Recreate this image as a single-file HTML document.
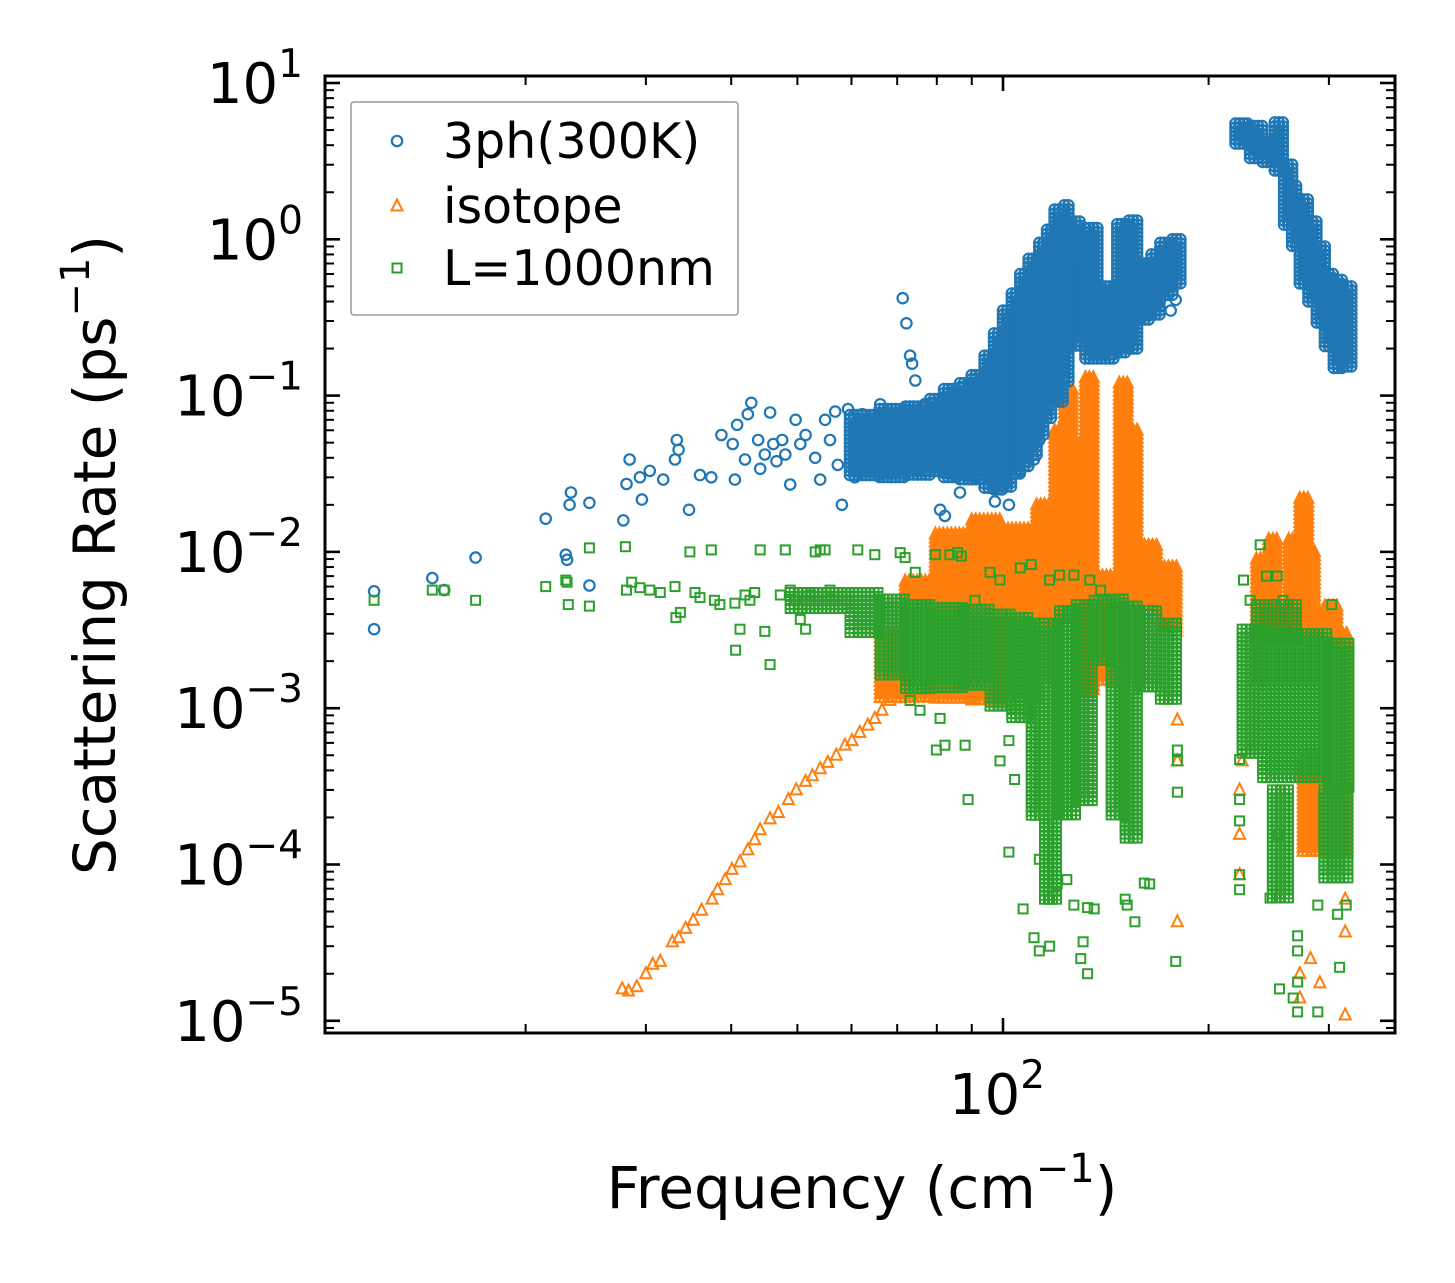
<!DOCTYPE html>
<html><head><meta charset="utf-8"><style>
html,body{margin:0;padding:0;background:#fff;}
svg{display:block;font-family:"DejaVu Sans","Liberation Sans",sans-serif;}
</style></head><body>
<svg id="chart" width="1455" height="1283" viewBox="0 0 1455 1283" xmlns="http://www.w3.org/2000/svg">
<rect x="0" y="0" width="1455" height="1283" fill="#fff"/>
<g id="marks"></g>
<g id="axes"></g>
<g id="legend"></g>
</svg>
<script>
// ---- data ----
const xTickMajor = [100];
const xTickMinor = [20,30,40,50,60,70,80,90,200,300];
const yDecades = [1,0,-1,-2,-3,-4,-5];
const seriesNames = ["3ph(300K)","isotope","L=1000nm"];

// 3ph scattered points [freq, rate]
const blueFreq = [12.0,12.0,14.6,15.2,16.9,21.4,22.9,23.0,23.2,23.3,24.8,24.8,27.8,28.1,28.4,29.6,29.4,30.4,31.8,33.1,33.3,33.5,34.7,36.0,37.4,38.7,40.2,40.5,40.8,41.9,42.3,42.8,43.8,44.1,44.8,45.6,46.1,46.6,47.5,48.0,48.8,49.7,50.5,51.4,53.1,54.0,54.9,55.8,56.8,57.3,58.1,59.3,60.7,62.2,63.9,64.9,66.1,68.3,71.3,72.2,73.1,73.6,74.4,76.8,80.9,82.2,86.5,91,97.3,100.7,102,106,111,113,136,139,141,170,179,176];
const blueRate = [5.6e-3,3.2e-3,6.8e-3,5.7e-3,9.2e-3,0.0163,9.6e-3,8.9e-3,0.020,0.024,6.1e-3,0.0206,0.0159,0.0272,0.039,0.0216,0.030,0.033,0.029,0.039,0.052,0.045,0.0186,0.031,0.030,0.056,0.049,0.029,0.065,0.039,0.076,0.090,0.052,0.034,0.042,0.078,0.049,0.038,0.052,0.042,0.027,0.070,0.049,0.056,0.040,0.029,0.070,0.052,0.079,0.036,0.020,0.082,0.030,0.076,0.062,0.033,0.088,0.052,0.42,0.29,0.18,0.16,0.125,0.088,0.0186,0.017,0.024,0.030,0.021,0.027,0.020,0.033,0.039,0.052,0.19,0.30,0.21,0.41,0.41,0.35];
// 3ph dense envelopes: [freqLo, freqHi, rateLo, rateHi]
const blueBands = [[59.7,66,0.031,0.075],[66,72,0.030,0.082],[72,78.2,0.031,0.085],[78.2,82,0.032,0.095],[82,86.5,0.030,0.11],[86.5,90,0.029,0.12],[90,94,0.028,0.135],[94,97,0.025,0.18],[97,100,0.024,0.25],[100,103,0.026,0.35],[103,106,0.030,0.45],[106,109,0.034,0.6],[109,113,0.040,0.75],[113,116,0.055,0.95],[116,119,0.07,1.15],[119,123,0.09,1.55],[123,126,0.12,1.65],[126,130,0.2,1.3],[130,132,0.25,0.7],[132,138,0.29,1.18],[132,146,0.17,0.5],[147,153,0.18,1.25],[153,159,0.2,1.32],[159,165,0.30,0.7],[165,170,0.33,0.8],[170,177,0.42,0.95],[177,184,0.5,1.0],
 [219,230,3.9,5.5],[230,240,3.3,5.3],[240,250,3.0,4.2],[250,258,2.7,5.6],[258,265,1.2,3.0],[265,272,0.9,2.2],[272,280,0.5,1.8],[280,288,0.4,1.3],[288,296,0.28,0.9],[296,305,0.2,0.6],[305,315,0.15,0.55],[315,325,0.15,0.5]];

// isotope points
const orangeFreq = [27.7,28.3,29.1,30.0,30.7,31.5,32.8,33.5,34.3,35.2,36.2,37.5,38.2,39.2,40.1,41.2,42.3,43.3,44.1,45.6,46.9,48.5,49.8,51.4,52.6,54.0,55.4,57.0,58.7,60.1,61.7,63.4,64.9,66.5,68.3,69.9,71.9,222,222,224,282,291,317,180,272,272,317,317,180,180,144,222];
const orangeRate = [1.6e-5,1.55e-5,1.65e-5,2.0e-5,2.3e-5,2.4e-5,3.2e-5,3.4e-5,3.9e-5,4.4e-5,5.1e-5,6.0e-5,6.9e-5,8.0e-5,9.3e-5,1.04e-4,1.24e-4,1.44e-4,1.67e-4,1.96e-4,2.15e-4,2.6e-4,3.0e-4,3.4e-4,3.7e-4,4.1e-4,4.5e-4,5.0e-4,5.8e-4,6.2e-4,7.0e-4,7.8e-4,8.6e-4,9.7e-4,1.12e-3,1.3e-3,1.5e-3,1.56e-4,8.6e-5,4.6e-4,2.5e-5,1.75e-5,1.09e-5,4.3e-5,2.0e-5,1.4e-5,6.0e-5,3.7e-5,8.4e-4,4.6e-4,1.5e-3,3.0e-4];
const orangeBands = [[66.1,71.9,1.12e-3,3.0e-3],[71.9,79.6,1.12e-3,6.5e-3],[79.6,90,1.12e-3,0.013],[90,99,1.12e-3,0.016],[99,112,1.12e-3,0.014],[112,119,1.5e-3,0.02],[119,123,3.7e-3,0.06],[123,128,3.7e-3,0.11],[128,131,5e-3,0.05],[132,137,1.3e-3,0.13],[138,146,1.5e-3,7e-3],[148,153,2e-3,0.12],[153,158,1.5e-3,0.06],[159,170,4.3e-3,0.011],[170,181,3e-3,0.008],
 [235,245,1.5e-3,0.009],[245,252,1.5e-3,0.012],[262,272,1.5e-3,0.012],[272,282,1.5e-3,0.022],[282,289,1.5e-3,0.01],[296,310,3e-4,4.5e-3],[310,322,2.6e-4,3.0e-3],[275,322,1.2e-4,5.0e-4]];

// L=1000nm points
const greenFreq = [12.0,14.6,15.2,16.9,21.4,22.9,23.0,23.1,24.8,24.8,28.0,28.1,28.6,29.4,30.4,31.5,33.1,33.2,33.7,34.8,35.4,36.0,37.4,37.8,38.5,40.5,40.6,41.2,41.9,42.6,43.3,44.1,44.8,45.6,47.2,48.0,48.8,49.7,50.5,51.4,52.2,53.1,54.0,54.9,55.8,61.3,64.9,70.7,71.9,74.4,79.6,83.6,85.8,86.9,91,95.7,99,106,110,117,121,127,134,139,
 102,107,111,113,117,120,124,127,130,133,136,133,131,151,152,156,161,164,179,180,180,180,102,99,88.9,79.9,82.2,88,80.9,75.6,73.1,117,113,104,
 238,243,252,303,257,222,222,222,222,246,253,270,270,270,254,266,270,289,309,311,318,289,222,225,230];
const greenRate = [4.9e-3,5.7e-3,5.7e-3,4.9e-3,6.0e-3,6.6e-3,6.4e-3,4.6e-3,4.5e-3,0.0106,0.0108,5.7e-3,6.4e-3,5.9e-3,5.7e-3,5.5e-3,6.0e-3,3.8e-3,4.1e-3,0.01,5.5e-3,5.1e-3,0.0103,4.9e-3,4.6e-3,4.7e-3,2.35e-3,3.2e-3,5.3e-3,4.9e-3,5.5e-3,0.0103,3.1e-3,1.9e-3,5.3e-3,0.0103,5.7e-3,4.9e-3,3.7e-3,3.2e-3,5.3e-3,0.01,0.0103,0.0103,5.7e-3,0.0103,9.6e-3,9.9e-3,9.2e-3,7.4e-3,9.6e-3,9.6e-3,9.9e-3,9.4e-3,4.9e-3,7.4e-3,6.6e-3,7.9e-3,8.3e-3,6.6e-3,7.1e-3,7.1e-3,6.6e-3,5.7e-3,
 1.2e-4,5.2e-5,3.4e-5,2.8e-5,6.0e-5,7.5e-5,8.0e-5,5.5e-5,2.5e-5,5.3e-5,5.2e-5,2.0e-5,3.2e-5,6.0e-5,5.5e-5,4.3e-5,7.6e-5,7.5e-5,2.4e-5,2.9e-4,5.4e-4,4.6e-4,6.2e-4,4.6e-4,2.6e-4,5.4e-4,5.8e-4,5.8e-4,8.6e-4,9.7e-4,1.12e-3,3.0e-5,1.08e-4,3.5e-4,
 0.0111,7.0e-3,7.0e-3,4.6e-3,4.9e-3,4.7e-4,1.9e-4,8.6e-5,6.9e-5,6.1e-5,1.55e-4,3.5e-5,2.8e-5,1.77e-5,1.6e-5,1.4e-5,1.14e-5,5.5e-5,4.8e-5,2.2e-5,5.5e-5,1.14e-5,2.6e-4,6.6e-3,4.9e-3];
const greenBands = [[48.8,59.7,4.3e-3,5.5e-3],[59.7,66.1,3.0e-3,5.5e-3],[66.1,72,1.6e-3,5.0e-3],[72,78.2,1.3e-3,4.6e-3],[78.2,88,1.3e-3,4.4e-3],[88,95.7,1.4e-3,4.3e-3],[95.7,103,1.0e-3,4.0e-3],[103,110,8.4e-4,3.8e-3],[110,115,2.0e-4,3.5e-3],[115,121,6.0e-5,3.5e-3],[121,128,2.0e-4,4.2e-3],[128,136,2.5e-4,4.6e-3],[136,144,2.0e-3,4.9e-3],[144,151,2.0e-4,5.0e-3],[151,159,1.4e-4,4.5e-3],[159,170,1.3e-3,4.2e-3],[170,181,1.1e-3,3.5e-3],
 [224,240,5.0e-4,3.2e-3],[240,300,3.5e-4,3.0e-3],[300,325,3.0e-4,2.6e-3],[235,272,2.7e-3,4.6e-3],[248,262,6.0e-5,3.0e-4],[295,322,8.0e-5,3.0e-4]];

// ---- scales ----
const X0 = 325, X1 = 1395, Y0 = 76, Y1 = 1033;
function xs(f){ return 1003 + 683*Math.log10(f/100); }
function ys(r){ return 83 + 156.3*(1 - Math.log10(r)); }

const NS = "http://www.w3.org/2000/svg";
const marks = document.getElementById('marks');
const axes = document.getElementById('axes');
const legend = document.getElementById('legend');
const BLUE="#1f77b4", ORANGE="#ff7f0e", GREEN="#2ca02c";

function marker(parent, kind, cx, cy){
  let el;
  if(kind==='circle'){
    el=document.createElementNS(NS,'circle');
    el.setAttribute('cx',cx.toFixed(1));el.setAttribute('cy',cy.toFixed(1));el.setAttribute('r',5.2);
    el.setAttribute('fill','none');el.setAttribute('stroke',BLUE);el.setAttribute('stroke-width',2.2);
  } else if(kind==='tri'){
    el=document.createElementNS(NS,'polygon');
    el.setAttribute('points',`${cx},${cy-6.5} ${cx-5.5},${cy+4.5} ${cx+5.5},${cy+4.5}`);
    el.setAttribute('fill','none');el.setAttribute('stroke',ORANGE);el.setAttribute('stroke-width',2);
  } else {
    el=document.createElementNS(NS,'rect');
    el.setAttribute('x',(cx-4.5).toFixed(1));el.setAttribute('y',(cy-4.5).toFixed(1));el.setAttribute('width',9);el.setAttribute('height',9);
    el.setAttribute('fill','none');el.setAttribute('stroke',GREEN);el.setAttribute('stroke-width',2);
  }
  parent.appendChild(el);
  return el;
}

function drawSeries(name, kind, freqs, rates, bands){
  const g=document.createElementNS(NS,'g');
  
  
  marks.appendChild(g);
  bands.forEach(b=>{
    const xa=xs(b[0]), xb=xs(b[1]), ya=ys(b[3]), yb=ys(b[2]);
    for(let x=xa; x<=xb+0.1; x+=4){
      for(let y=ya; y<=yb+0.1; y+=4){
        const m=marker(g,kind,x,y);
        
        
      }
    }
  });
  freqs.forEach((f,i)=>{
    const m=marker(g,kind,xs(f),ys(rates[i]));
    
    
  });
}
drawSeries('series-isotope','tri',orangeFreq,orangeRate,orangeBands);
drawSeries('series-3ph','circle',blueFreq,blueRate,blueBands);
drawSeries('series-boundary','square',greenFreq,greenRate,greenBands);

// clip marks to axes
const cp=document.createElementNS(NS,'clipPath');cp.setAttribute('id','clip');
const cr=document.createElementNS(NS,'rect');cr.setAttribute('x',X0);cr.setAttribute('y',Y0);cr.setAttribute('width',X1-X0);cr.setAttribute('height',Y1-Y0);
cp.appendChild(cr);document.getElementById('chart').insertBefore(cp,marks);
marks.setAttribute('clip-path','url(#clip)');

function line(parent,x1,y1,x2,y2,w,name){
  const l=document.createElementNS(NS,'line');
  l.setAttribute('x1',x1);l.setAttribute('y1',y1);l.setAttribute('x2',x2);l.setAttribute('y2',y2);
  l.setAttribute('stroke','#000');l.setAttribute('stroke-width',w);
  
  
  parent.appendChild(l);
}
// ticks
xTickMajor.forEach(v=>{const x=xs(v);line(axes,x,Y1,x,Y1-15,2.6,'x-major-tick');line(axes,x,Y0,x,Y0+15,2.6,'x-major-tick-top');});
xTickMinor.forEach(v=>{const x=xs(v);line(axes,x,Y1,x,Y1-9,2,'x-minor-tick');line(axes,x,Y0,x,Y0+9,2,'x-minor-tick-top');});
yDecades.forEach(d=>{
  const y=ys(Math.pow(10,d));
  line(axes,X0,y,X0+15,y,2.6,'y-major-tick');line(axes,X1,y,X1-15,y,2.6,'y-major-tick-right');
  for(let k=2;k<=9;k++){
    const ym=ys(k*Math.pow(10,d-1));
    if(ym>Y0 && ym<Y1){line(axes,X0,ym,X0+9,ym,2,'y-minor-tick');line(axes,X1,ym,X1-9,ym,2,'y-minor-tick-right');}
  }
  const t=document.createElementNS(NS,'text');
  t.setAttribute('x',303);t.setAttribute('y',y+20);t.setAttribute('text-anchor','end');
  t.setAttribute('font-size',56);t.setAttribute('fill','#000');
  
  
  const exp = d<0 ? '\u2212'+(-d) : String(d);
  t.innerHTML='10<tspan font-size="39" dy="-26">'+exp+'</tspan>';
  axes.appendChild(t);
});
const fr=document.createElementNS(NS,'rect');
fr.setAttribute('x',X0);fr.setAttribute('y',Y0);fr.setAttribute('width',X1-X0);fr.setAttribute('height',Y1-Y0);
fr.setAttribute('fill','none');fr.setAttribute('stroke','#000');fr.setAttribute('stroke-width',3);


axes.appendChild(fr);
// x tick label
xTickMajor.forEach(v=>{
  const t=document.createElementNS(NS,'text');
  t.setAttribute('x',xs(v)-6);t.setAttribute('y',1114);t.setAttribute('text-anchor','middle');
  t.setAttribute('font-size',56);
  
  
  t.innerHTML='10<tspan font-size="39" dy="-26">2</tspan>';
  axes.appendChild(t);
});
// axis titles
const xt=document.createElementNS(NS,'text');
xt.setAttribute('x',862);xt.setAttribute('y',1208);xt.setAttribute('text-anchor','middle');xt.setAttribute('font-size',58);


xt.innerHTML='Frequency (cm<tspan font-size="40" dy="-26">\u22121</tspan><tspan dy="26">)</tspan>';
axes.appendChild(xt);
const yt=document.createElementNS(NS,'text');
yt.setAttribute('transform','translate(115,555) rotate(-90)');yt.setAttribute('text-anchor','middle');yt.setAttribute('font-size',58);


yt.innerHTML='Scattering Rate (ps<tspan font-size="40" dy="-26">\u22121</tspan><tspan dy="26">)</tspan>';
axes.appendChild(yt);
// legend
const lb=document.createElementNS(NS,'rect');
lb.setAttribute('x',351);lb.setAttribute('y',102);lb.setAttribute('width',387);lb.setAttribute('height',213);lb.setAttribute('rx',3);
lb.setAttribute('fill','#fff');lb.setAttribute('fill-opacity',0.8);lb.setAttribute('stroke','#999');lb.setAttribute('stroke-width',1.5);


legend.appendChild(lb);
const kinds=['circle','tri','square'], ly=[141,206,268];
seriesNames.forEach((n,i)=>{
  const m=marker(legend,kinds[i],397,ly[i]);
  
  
  const t=document.createElementNS(NS,'text');
  t.setAttribute('x',443);t.setAttribute('y',ly[i]+17);t.setAttribute('font-size',49);
  
  
  t.textContent=n;
  legend.appendChild(t);
});
</script>
</body></html>
